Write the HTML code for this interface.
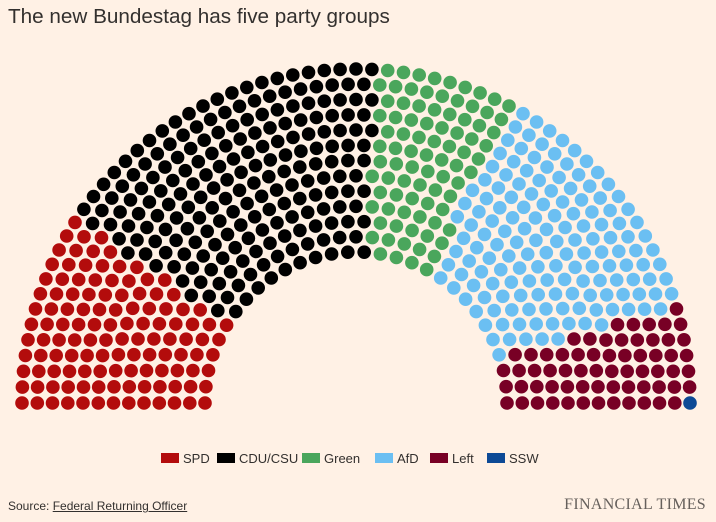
<!DOCTYPE html>
<html><head><meta charset="utf-8"><style>
html,body{margin:0;padding:0;background:#fff1e5;width:716px;height:522px;overflow:hidden;font-family:"Liberation Sans",sans-serif;}
#t{position:absolute;left:8px;top:5px;font-size:20.7px;color:#33302e;}
#src{position:absolute;left:8px;top:499px;font-size:12px;color:#33302e;}
#src u{text-decoration:underline;}
#ft{position:absolute;right:10px;top:496px;font-family:"Liberation Serif",serif;font-size:16px;color:#66605c;letter-spacing:0.3px;}
svg{position:absolute;left:0;top:0;}
</style></head><body>
<div id="t">The new Bundestag has five party groups</div>
<svg id="s" width="716" height="522"></svg>
<div id="src">Source: <u>Federal Returning Officer</u></div>
<div id="ft">FINANCIAL TIMES</div>
<script>
const parties=[["SPD",120,"#b30c0c"],["CDU/CSU",208,"#000000"],["Green",85,"#4aa65c"],["AfD",152,"#6bbff2"],["Left",64,"#780025"],["SSW",1,"#0d4a96"]];
const cx=356,cy=403,r0=151,dr=15.25,rows=13,total=630;
let radii=[],counts=[],sum=0;
for(let i=0;i<rows;i++){radii.push(r0+i*dr);sum+=radii[i];}
let acc=0;
for(let i=0;i<rows;i++){let c=Math.round(total*radii[i]/sum);counts.push(c);acc+=c;}
counts[rows-1]+=total-acc;
let seats=[];
for(let i=0;i<rows;i++){const n=counts[i];for(let j=0;j<n;j++){const a=Math.PI*(1-j/(n-1));seats.push({a:a,r:radii[i]});}}
seats.sort((p,q)=>q.a-p.a||p.r-q.r);
let svg='',k=0;
for(const [n,c,col] of parties){for(let j=0;j<c;j++,k++){const s=seats[k];svg+=`<circle cx="${(cx+s.r*Math.cos(s.a)).toFixed(1)}" cy="${(cy-s.r*Math.sin(s.a)).toFixed(1)}" r="6.8" fill="${col}"/>`;}}
const lw=[["SPD",161],["CDU/CSU",217],["Green",302],["AfD",375],["Left",430],["SSW",487]];
parties.forEach((p,i)=>{const x=lw[i][1];svg+=`<rect x="${x}" y="453" width="18" height="10" fill="${p[2]}"/><text x="${x+22}" y="463" font-size="13" fill="#33302e" font-family="Liberation Sans, sans-serif">${p[0]}</text>`;});
document.getElementById('s').innerHTML=svg;
</script>
</body></html>
